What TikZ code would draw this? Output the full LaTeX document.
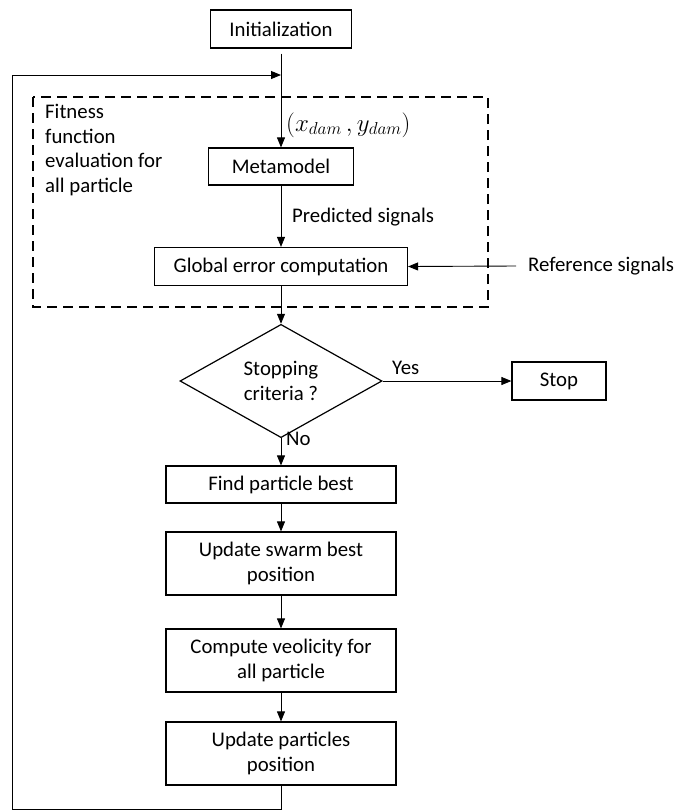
\documentclass[tikz,border=0pt]{standalone}
\usepackage{fontspec}
\setmainfont{Carlito}
\usetikzlibrary{arrows.meta,shapes.geometric}
\begin{document}
\begin{tikzpicture}[x=1pt,y=-1pt,
  font=\fontsize{20.8}{24.7}\selectfont,
  box/.style={draw,line width=1.2pt,rectangle,inner sep=0pt,align=center},
  dec/.style={draw,line width=1.2pt,diamond,inner sep=0pt,align=center,minimum width=202pt,minimum height=88pt},
  lbl/.style={inner sep=0pt},
  arr/.style={line width=0.9pt,-{Triangle[length=10pt,width=8pt]}},
  ln/.style={line width=0.9pt}]
\useasboundingbox (0,0) rectangle (676,812);
% dashed frame
\draw[line width=1.6pt,dash pattern=on 10pt off 6pt] (33,97) rectangle (488,307);
% nodes
\node[box,minimum width=141pt,minimum height=38pt] (init) at (281,29) {Initialization};
\node[box,minimum width=145pt,minimum height=37pt] (meta) at (281,166.5) {Metamodel};
\node[box,minimum width=253pt,minimum height=38pt] (glob) at (281,266.5) {Global error computation};
\node[dec] (stopq) at (281,381) {Stopping\\[-0.5pt]criteria ?};
\node[box,minimum width=94pt,minimum height=38pt] (stop) at (559,381) {Stop};
\node[box,minimum width=230pt,minimum height=37pt] (find) at (281,484.5) {Find particle best};
\node[box,minimum width=230pt,minimum height=63pt] (swarm) at (281,563.5) {Update swarm best\\position};
\node[box,minimum width=230pt,minimum height=63pt] (comp) at (281,660.5) {Compute veolicity for\\all particle};
\node[box,minimum width=230pt,minimum height=63pt] (upd) at (281,753.5) {Update particles\\position};
% labels
\node[lbl,anchor=north west,align=left] (fit) at (45,104) {Fitness\\function\\evaluation for\\all particle};
\node[lbl,anchor=west,font=\fontsize{23}{26}\selectfont] (xy) at (286,125) {$(x_{dam}\,,y_{dam})$};
\node[lbl,anchor=west] (pred) at (292,217) {Predicted signals};
\node[lbl,anchor=west] (ref) at (528,266) {Reference signals};
\node[lbl,anchor=west] (yes) at (392,368) {Yes};
\node[lbl,anchor=west] (no) at (286,439) {No};
% loop coordinates
\coordinate (bl) at (12,809);
\coordinate (tl) at (12,75);
\coordinate (join) at (281,75);
% connectors
\draw[arr] ([yshift=-5pt]init.south) -- (meta.north);
\draw[arr] (meta.south) -- (glob.north);
\draw[arr] ([xshift=-12pt]ref.west) -- (glob.east);
\draw[arr] (glob.south) -- (stopq.north);
\draw[arr] (stopq.east) -- (stop.west);
\draw[arr] (stopq.south) -- (find.north);
\draw[arr] (find.south) -- (swarm.north);
\draw[arr] (swarm.south) -- (comp.north);
\draw[arr] (comp.south) -- (upd.north);
\draw[arr] (upd.south) |- (bl) -- (tl) -- (join);
\end{tikzpicture}
\end{document}
